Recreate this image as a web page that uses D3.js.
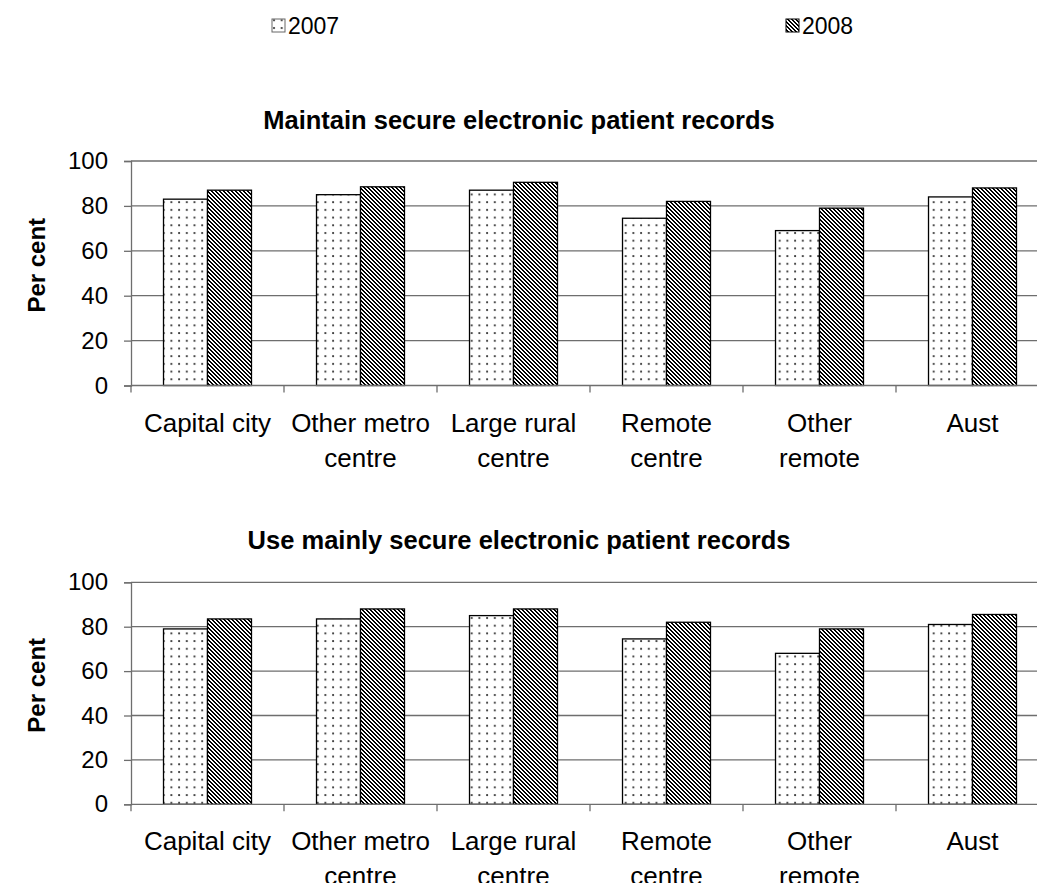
<!DOCTYPE html>
<html>
<head>
<meta charset="utf-8">
<script src="https://cdn.jsdelivr.net/npm/d3@7"></script>
<style>
  html, body { margin: 0; padding: 0; background: #fff; }
  svg { display: block; font-family: "Liberation Sans", Arial, sans-serif; }
</style>
</head>
<body>
<svg id="chart" width="1037" height="883"></svg>
<script>
// Category labels (with their line breaks) and series names
const categories = ["Capital city", "Other metro centre", "Large rural centre", "Remote centre", "Other remote", "Aust"];
const categoryLines = [["Capital city"], ["Other metro", "centre"], ["Large rural", "centre"], ["Remote", "centre"], ["Other", "remote"], ["Aust"]];
const seriesNames = ["2007", "2008"];

// Per cent of practices, by location
const maintain2007 = [83, 85, 87, 74.5, 69, 84];
const maintain2008 = [87, 88.5, 90.5, 82, 79, 88];
const useMainly2007 = [79, 83.5, 85, 74.5, 68, 81];
const useMainly2008 = [83.5, 88, 88, 82, 79, 85.5];

const yTicks = [0, 20, 40, 60, 80, 100];

const panels = [
  { title: "Maintain secure electronic patient records", values: [maintain2007, maintain2008], top: 161, bottom: 385.5, titleY: 129 },
  { title: "Use mainly secure electronic patient records", values: [useMainly2007, useMainly2008], top: 582.3, bottom: 804.3, titleY: 549 }
];

const svg = d3.select("#chart");
const defs = svg.append("defs");

// Dotted fill for 2007
const dots = defs.append("pattern").attr("id", "pat2007")
  .attr("patternUnits", "userSpaceOnUse").attr("width", 7.7).attr("height", 7.7);
dots.append("rect").attr("width", 7.7).attr("height", 7.7).attr("fill", "#fff");
dots.append("circle").attr("cx", 2).attr("cy", 2).attr("r", 1.1).attr("fill", "#333");

// Pixel diagonal hatch fill for 2008 (stripes running down to the right)
const hatch = defs.append("pattern").attr("id", "pat2008")
  .attr("patternUnits", "userSpaceOnUse").attr("width", 4).attr("height", 4);
hatch.append("rect").attr("width", 4).attr("height", 4).attr("fill", "#fff");
[[0, 0], [1, 0], [1, 1], [2, 1], [2, 2], [3, 2], [3, 3], [0, 3]].forEach(([px, py]) => {
  hatch.append("rect").attr("x", px).attr("y", py).attr("width", 1).attr("height", 1)
    .attr("fill", "#000").attr("shape-rendering", "crispEdges");
});

const fills = ["url(#pat2007)", "url(#pat2008)"];

const x0 = d3.scaleBand().domain(categories).range([131, 1049]).paddingInner(0.425).paddingOuter(0.2125);
const x1 = d3.scaleBand().domain(seriesNames).range([0, x0.bandwidth()]);

// Legend
const legendX = [272, 786];
seriesNames.forEach((s, i) => {
  const g = svg.append("g").attr("transform", `translate(${legendX[i]},26)`);
  g.append("rect").attr("x", 0).attr("y", -7).attr("width", 13).attr("height", 13)
    .attr("fill", fills[i]).attr("stroke", i === 0 ? "#666" : "#000").attr("stroke-width", 1);
  g.append("text").attr("x", 16).attr("y", 0).attr("dy", "0.36em").attr("font-size", 23)
    .attr("fill", "#000").text(s);
});

panels.forEach(p => {
  const y = d3.scaleLinear().domain([0, 100]).range([p.bottom, p.top]);
  const g = svg.append("g");

  // Gridlines
  g.append("g").selectAll("line").data(yTicks.filter(t => t > 0)).join("line")
    .attr("x1", 131).attr("x2", 1037)
    .attr("y1", d => y(d)).attr("y2", d => y(d))
    .attr("stroke", "#6e6e6e").attr("stroke-width", 1.3);

  // Bars
  seriesNames.forEach((s, si) => {
    g.append("g").selectAll("rect").data(categories).join("rect")
      .attr("x", c => x0(c) + x1(s))
      .attr("y", (c, i) => y(p.values[si][i]))
      .attr("width", x1.bandwidth())
      .attr("height", (c, i) => y(0) - y(p.values[si][i]))
      .attr("fill", fills[si])
      .attr("stroke", "#000").attr("stroke-width", 1.3);
  });

  // Y axis
  const yAxis = d3.axisLeft(y).tickValues(yTicks).tickSize(7).tickPadding(16);
  const ya = g.append("g").attr("transform", "translate(131,0)").call(yAxis);
  ya.select(".domain").attr("stroke", "#6e6e6e").attr("stroke-width", 1.3);
  ya.selectAll(".tick line").attr("stroke", "#6e6e6e").attr("stroke-width", 1.3);
  ya.selectAll(".tick text").attr("font-size", 24).attr("fill", "#000")
    .attr("font-family", "Liberation Sans, Arial, sans-serif");

  // Category axis with ticks between categories
  g.append("line").attr("x1", 131).attr("x2", 1037).attr("y1", y(0)).attr("y2", y(0))
    .attr("stroke", "#6e6e6e").attr("stroke-width", 1.3);
  const bounds = categories.map(c => x0(c) - x0.step() * 0.2125);
  g.append("g").selectAll("line").data(bounds).join("line")
    .attr("x1", d => d).attr("x2", d => d)
    .attr("y1", y(0)).attr("y2", y(0) + 7)
    .attr("stroke", "#6e6e6e").attr("stroke-width", 1.3);

  const labels = g.append("g").selectAll("text").data(categories).join("text")
    .attr("x", c => x0(c) + x0.bandwidth() / 2)
    .attr("y", y(0) + 46)
    .attr("text-anchor", "middle").attr("font-size", 26).attr("fill", "#000");
  labels.each(function (c, i) {
    d3.select(this).selectAll("tspan").data(categoryLines[i]).join("tspan")
      .attr("x", x0(c) + x0.bandwidth() / 2)
      .attr("dy", (d, j) => j === 0 ? 0 : 35)
      .text(d => d);
  });

  // Panel title
  g.append("text").attr("x", 519).attr("y", p.titleY)
    .attr("text-anchor", "middle").attr("font-size", 25.5).attr("font-weight", "bold")
    .attr("fill", "#000").text(p.title);

  // Y axis title
  g.append("text")
    .attr("transform", `translate(45,${(p.top + p.bottom) / 2 - 8}) rotate(-90)`)
    .attr("text-anchor", "middle").attr("font-size", 24).attr("font-weight", "bold")
    .attr("fill", "#000").text("Per cent");
});
</script>
</body>
</html>
